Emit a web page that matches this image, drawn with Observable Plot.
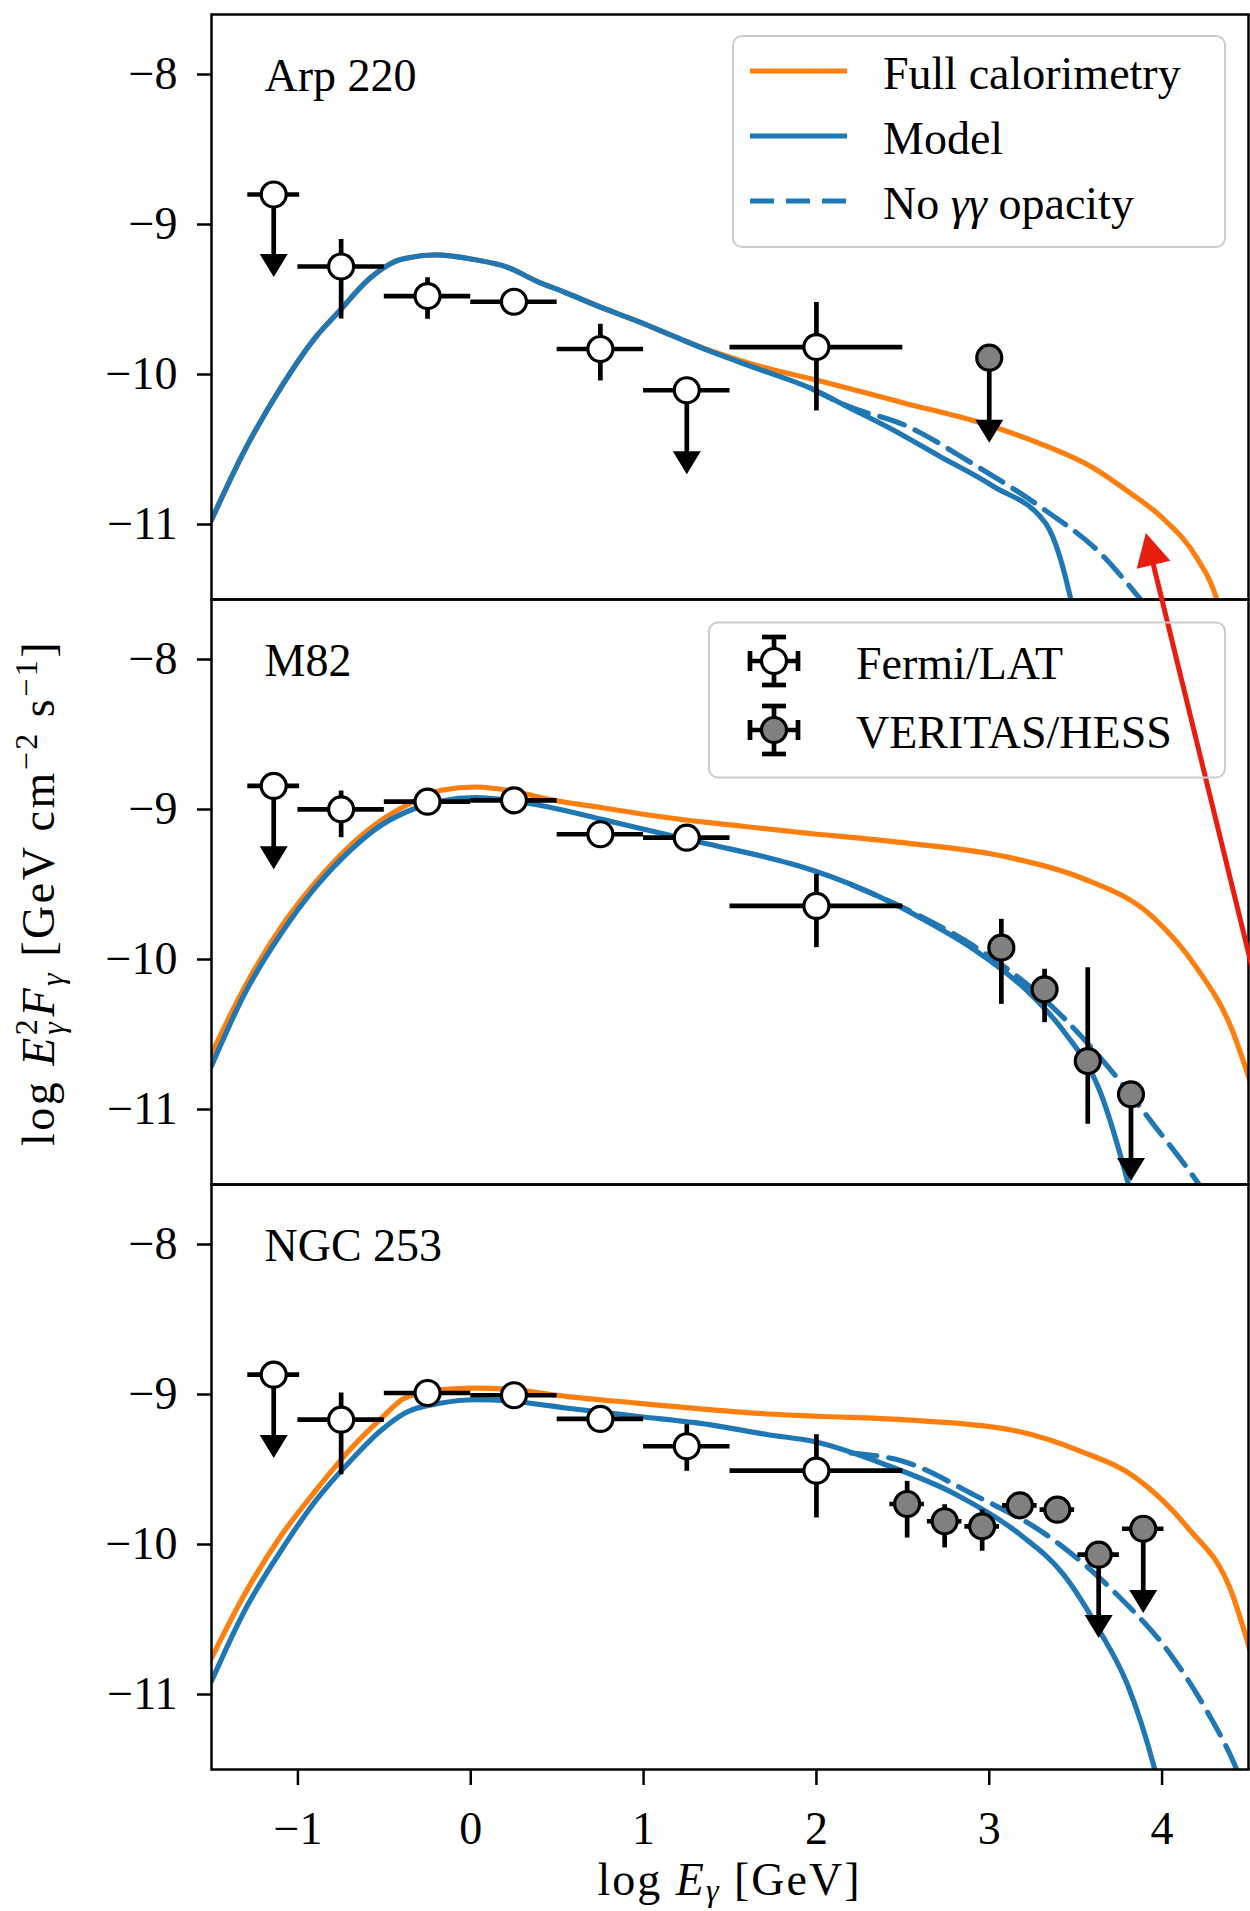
<!DOCTYPE html>
<html>
<head>
<meta charset="utf-8">
<script src="https://cdn.jsdelivr.net/npm/d3@7"></script>
<script src="https://cdn.jsdelivr.net/npm/@observablehq/plot@0.6"></script>
<style>
  html, body { margin: 0; padding: 0; background: #fff; overflow: hidden; }
  #chart { width: 1250px; height: 1911px; }
</style>
</head>
<body>
<div id="chart"></div>
<script>
// ---------- categories & ticks ----------
const galaxies = ["Arp 220", "M82", "NGC 253"];
const xTicks = [-1, 0, 1, 2, 3, 4];
const xTickLabels = ["−1", "0", "1", "2", "3", "4"];
const yTicks = [-8, -9, -10, -11];
const yTickLabels = ["−8", "−9", "−10", "−11"];
const legendLineLabels = ["Full calorimetry", "Model", "No γγ opacity"];
const legendPointLabels = ["Fermi/LAT", "VERITAS/HESS"];

// ---------- model curves [log E, log E^2 F] ----------
const arpFull = [[-1.5,-10.97],[-1.31,-10.51],[-1.10,-10.09],[-0.90,-9.755],[-0.76,-9.577],[-0.59,-9.365],[-0.40,-9.232],[-0.20,-9.203],[0.01,-9.232],[0.22,-9.288],[0.38,-9.377],[0.55,-9.455],[0.76,-9.555],[0.96,-9.643],[1.17,-9.743],[1.38,-9.838],[1.67,-9.945],[1.98,-10.032],[2.50,-10.188],[3.01,-10.343],[3.33,-10.477],[3.60,-10.621],[3.80,-10.777],[4.01,-10.965],[4.20,-11.221],[4.31,-11.477],[4.36,-11.70]];
const arpModel = [[-1.5,-10.97],[-1.31,-10.51],[-1.10,-10.09],[-0.90,-9.755],[-0.76,-9.577],[-0.59,-9.365],[-0.40,-9.232],[-0.20,-9.203],[0.01,-9.232],[0.22,-9.288],[0.38,-9.377],[0.55,-9.455],[0.76,-9.555],[0.96,-9.643],[1.17,-9.743],[1.38,-9.843],[1.67,-9.966],[1.96,-10.088],[2.19,-10.221],[2.42,-10.355],[2.71,-10.543],[3.02,-10.743],[3.33,-10.999],[3.41,-11.221],[3.47,-11.488],[3.52,-11.75]];
const arpNoOpacity = [[1.96,-10.088],[2.19,-10.215],[2.50,-10.332],[2.91,-10.599],[3.33,-10.91],[3.64,-11.188],[3.86,-11.477],[3.92,-11.56]];

const m82Full = [[-1.5,-10.63],[-1.31,-10.188],[-1.10,-9.788],[-0.90,-9.488],[-0.69,-9.232],[-0.525,-9.077],[-0.36,-8.965],[-0.17,-8.872],[0.03,-8.85],[0.24,-8.877],[0.45,-8.932],[0.76,-8.988],[1.07,-9.043],[1.38,-9.088],[1.72,-9.13],[1.88,-9.15],[2.50,-9.221],[3.12,-9.321],[3.53,-9.455],[3.95,-9.721],[4.20,-10.055],[4.40,-10.455],[4.52,-10.85]];
const m82Model = [[-1.5,-10.71],[-1.31,-10.232],[-1.10,-9.832],[-0.90,-9.521],[-0.69,-9.265],[-0.525,-9.11],[-0.36,-9.01],[-0.17,-8.943],[0.03,-8.921],[0.24,-8.943],[0.45,-8.983],[0.76,-9.066],[1.07,-9.15],[1.38,-9.232],[1.72,-9.321],[1.88,-9.37],[2.29,-9.543],[2.60,-9.721],[2.91,-9.932],[3.22,-10.21],[3.43,-10.477],[3.64,-10.877],[3.80,-11.477],[3.85,-11.70]];
const m82NoOpacity = [[2.20,-9.50],[2.60,-9.71],[2.91,-9.91],[3.33,-10.277],[3.74,-10.788],[3.95,-11.099],[4.20,-11.477],[4.25,-11.56]];

const ngcFull = [[-1.5,-10.757],[-1.31,-10.335],[-1.10,-9.945],[-0.90,-9.645],[-0.69,-9.357],[-0.525,-9.168],[-0.38,-9.023],[-0.17,-8.968],[0.03,-8.957],[0.24,-8.968],[0.55,-9.012],[0.96,-9.057],[1.38,-9.101],[1.72,-9.13],[2.0,-9.145],[2.50,-9.168],[3.12,-9.235],[3.53,-9.379],[3.85,-9.557],[4.15,-9.89],[4.40,-10.312],[4.52,-10.75]];
const ngcModel = [[-1.5,-10.912],[-1.31,-10.445],[-1.10,-10.045],[-0.90,-9.712],[-0.69,-9.435],[-0.525,-9.245],[-0.38,-9.123],[-0.17,-9.057],[0.03,-9.035],[0.24,-9.045],[0.55,-9.09],[0.96,-9.145],[1.38,-9.201],[1.72,-9.268],[1.98,-9.312],[2.40,-9.468],[2.81,-9.668],[3.18,-9.935],[3.43,-10.201],[3.64,-10.579],[3.80,-10.935],[3.95,-11.468],[3.99,-11.65]];
const ngcNoOpacity = [[2.20,-9.39],[2.50,-9.445],[2.91,-9.668],[3.33,-9.935],[3.74,-10.335],[4.05,-10.735],[4.26,-11.112],[4.42,-11.468],[4.46,-11.58]];

// ---------- data points: [x, xLow, xHigh, y, yLow (or limit arrow tip), yHigh, upperLimit] ----------
const fermiArp = [
  [-1.14,-1.29,-0.99,-8.80,-9.35,null,1],
  [-0.75,-1.0,-0.5,-9.28,-9.63,-9.10,0],
  [-0.25,-0.5,0.0,-9.477,-9.632,-9.355,0],
  [0.25,0.0,0.5,-9.515,-9.56,-9.47,0],
  [0.75,0.5,1.0,-9.83,-10.043,-9.665,0],
  [1.25,1.0,1.5,-10.105,-10.665,null,1],
  [2.0,1.5,2.5,-9.817,-10.243,-9.52,0]
];
const veritasArp = [
  [3.0,null,null,-9.888,-10.455,null,1]
];
const fermiM82 = [
  [-1.14,-1.29,-0.99,-8.843,-9.399,null,1],
  [-0.75,-1.0,-0.5,-8.999,-9.188,-8.877,0],
  [-0.25,-0.5,0.0,-8.948,-8.99,-8.905,0],
  [0.25,0.0,0.5,-8.939,-8.98,-8.90,0],
  [0.75,0.5,1.0,-9.165,-9.205,-9.125,0],
  [1.25,1.0,1.5,-9.188,-9.23,-9.145,0],
  [2.0,1.5,2.5,-9.643,-9.921,-9.432,0]
];
const veritasM82 = [
  [3.07,null,null,-9.921,-10.299,-9.732,0],
  [3.32,null,null,-10.199,-10.421,-10.065,0],
  [3.57,null,null,-10.677,-11.099,-10.055,0],
  [3.82,null,null,-10.899,-11.477,null,1]
];
const fermiNGC = [
  [-1.14,-1.29,-0.99,-8.868,-9.423,null,1],
  [-0.75,-1.0,-0.5,-9.168,-9.535,-8.99,0],
  [-0.25,-0.5,0.0,-8.99,-9.03,-8.95,0],
  [0.25,0.0,0.5,-9.005,-9.045,-8.965,0],
  [0.75,0.5,1.0,-9.163,-9.2,-9.125,0],
  [1.25,1.0,1.5,-9.345,-9.512,-9.201,0],
  [2.0,1.5,2.5,-9.508,-9.823,-9.268,0]
];
const veritasNGC = [
  [2.525,2.425,2.625,-9.73,-9.957,-9.579,0],
  [2.742,2.642,2.842,-9.845,-10.023,-9.735,0],
  [2.959,2.859,3.059,-9.879,-10.045,-9.77,0],
  [3.177,3.077,3.277,-9.739,-9.81,-9.67,0],
  [3.394,3.294,3.494,-9.768,-9.855,-9.69,0],
  [3.633,3.513,3.753,-10.068,-10.623,null,1],
  [3.891,3.771,4.011,-9.895,-10.457,null,1]
];

// red annotation arrow (drawn in the Arp 220 panel's data coordinates)
const redArrow = [{galaxy: "Arp 220", x1: 4.571, y1: -14.19, x2: 3.924, y2: -11.148, tipX: 3.906, tipY: -11.057}];

// ---------- styles ----------
const orange = "#ff7f0e", blue = "#1f77b4", red = "#e81d0e", grayFill = "#808080";
const serif = '"Liberation Serif", "Times New Roman", serif';
const curveWidth = 5.2;

// ---------- tables ----------
const curveSets = [
  ["Arp 220", arpFull, arpModel, arpNoOpacity],
  ["M82", m82Full, m82Model, m82NoOpacity],
  ["NGC 253", ngcFull, ngcModel, ngcNoOpacity]
];
const curves = curveSets.flatMap(([galaxy, full, model, noop]) => [
  ...full.map(([x, y]) => ({galaxy, series: "full", x, y})),
  ...model.map(([x, y]) => ({galaxy, series: "model", x, y})),
  ...noop.map(([x, y]) => ({galaxy, series: "noOpacity", x, y}))
]);
const toPts = (rows, galaxy, instrument) =>
  rows.map(([x, xlo, xhi, y, ylo, yhi, ul]) => ({galaxy, instrument, x, xlo, xhi, y, ylo, yhi, ul: !!ul}));
const points = [
  ...toPts(fermiArp, "Arp 220", "fermi"), ...toPts(veritasArp, "Arp 220", "veritas"),
  ...toPts(fermiM82, "M82", "fermi"), ...toPts(veritasM82, "M82", "veritas"),
  ...toPts(fermiNGC, "NGC 253", "fermi"), ...toPts(veritasNGC, "NGC 253", "veritas")
];
const withXErr = points.filter(d => d.xlo != null);
const withYErr = points.filter(d => !d.ul);
const upperLimits = points.filter(d => d.ul);

// custom symbols: arrowheads with the tip at the anchor point
const downHead = {draw(ctx) { ctx.moveTo(0, 0); ctx.lineTo(-14, -23); ctx.lineTo(14, -23); ctx.closePath(); }};
const redHead = {draw(ctx) { ctx.moveTo(0, 0); ctx.lineTo(24.5, 27.6); ctx.lineTo(-9.1, 35.8); ctx.closePath(); }};

const lineOpts = (series, stroke, extra = {}) =>
  Plot.line(curves.filter(d => d.series === series),
    {x: "x", y: "y", fy: "galaxy", z: "galaxy", stroke, strokeWidth: curveWidth, curve: "monotone-x", clip: true, ...extra});

const chart = Plot.plot({
  width: 1250,
  height: 1911,
  marginLeft: 211,
  marginRight: 2,
  marginTop: 13.5,
  marginBottom: 142.5,
  x: {domain: [-1.5, 4.5]},
  y: {domain: [-11.5, -7.6]},
  fy: {domain: galaxies, padding: 0, axis: null},
  style: {fontFamily: serif, fontSize: "46px", color: "black", background: "white", overflow: "hidden"},
  marks: [
    lineOpts("full", orange),
    lineOpts("model", blue),
    lineOpts("noOpacity", blue, {strokeDasharray: "26,12"}),
    Plot.frame({stroke: "black", strokeWidth: 2.5}),
    Plot.ruleY(withXErr, {y: "y", x1: "xlo", x2: "xhi", fy: "galaxy", stroke: "black", strokeWidth: 4.7}),
    Plot.ruleX(withYErr, {x: "x", y1: "ylo", y2: "yhi", fy: "galaxy", stroke: "black", strokeWidth: 4.7}),
    Plot.ruleX(upperLimits, {x: "x", y1: "y", y2: "ylo", fy: "galaxy", stroke: "black", strokeWidth: 4.7, insetBottom: 10}),
    Plot.dot(upperLimits, {x: "x", y: "ylo", fy: "galaxy", symbol: downHead, r: 10, fill: "black", stroke: "none"}),
    Plot.dot(points.filter(d => d.instrument === "fermi"), {x: "x", y: "y", fy: "galaxy", r: 12.5, fill: "white", stroke: "black", strokeWidth: 3.2}),
    Plot.dot(points.filter(d => d.instrument === "veritas"), {x: "x", y: "y", fy: "galaxy", r: 12.5, fill: grayFill, stroke: "black", strokeWidth: 3.2}),
    Plot.text(galaxies, {fy: d => d, text: d => d, frameAnchor: "top-left", dx: 53, dy: 62, textAnchor: "start", lineAnchor: "middle", fontSize: 46, fill: "black"}),
    Plot.axisY({ticks: yTicks, tickFormat: d => yTickLabels[yTicks.indexOf(d)], tickSize: 14, tickPadding: 20, strokeWidth: 2.5, fontSize: 46, label: null}),
    Plot.axisX({ticks: xTicks, tickFormat: d => xTickLabels[xTicks.indexOf(d)], tickSize: 16, tickPadding: 26, strokeWidth: 2.5, fontSize: 46, label: null}),
    Plot.link(redArrow, {x1: "x1", y1: "y1", x2: "x2", y2: "y2", fy: "galaxy", stroke: red, strokeWidth: 5, ariaLabel: "annotation-arrow"}),
    Plot.dot(redArrow, {x: "tipX", y: "tipY", fy: "galaxy", symbol: redHead, r: 10, fill: red, stroke: "none", ariaLabel: "annotation-arrow"})
  ]
});
document.getElementById("chart").appendChild(chart);

// ---------- in-panel legends and axis titles ----------
const svg = d3.select(chart);
function richText(sel, parts) {
  parts.forEach(p => {
    const t = sel.append("tspan").text(p.t);
    if (p.it) t.attr("font-style", "italic");
    if (p.size) t.attr("font-size", p.size);
    if (p.dx) t.attr("dx", p.dx);
    if (p.dy) t.attr("dy", p.dy);
  });
}
const lg = svg.append("g").attr("aria-label", "legend").attr("font-family", serif).attr("font-size", 46)
  .attr("fill", "black").attr("text-anchor", "start");

// legend 1 (lines)
lg.append("rect").attr("x", 733).attr("y", 36).attr("width", 492).attr("height", 211).attr("rx", 9)
  .attr("fill", "white").attr("fill-opacity", 0.8).attr("stroke", "#cccccc").attr("stroke-width", 2);
const lineStyles = [{c: orange, d: null}, {c: blue, d: null}, {c: blue, d: "24,12"}];
legendLineLabels.forEach((label, i) => {
  const y = 71 + i * 65;
  const ln = lg.append("line").attr("x1", 750).attr("x2", 847).attr("y1", y).attr("y2", y)
    .attr("stroke", lineStyles[i].c).attr("stroke-width", curveWidth);
  if (lineStyles[i].d) ln.attr("stroke-dasharray", lineStyles[i].d);
  const t = lg.append("text").attr("x", 883).attr("y", y + 17.5).attr("text-anchor", "start");
  richText(t, label.split(/(γ+)/).filter(s => s).map(s => ({t: s, it: /γ/.test(s)})));
});

// legend 2 (markers with error bars)
lg.append("rect").attr("x", 709).attr("y", 622.5).attr("width", 516).attr("height", 155).attr("rx", 9)
  .attr("fill", "none").attr("stroke", "#cccccc").attr("stroke-width", 2);
const pointFills = ["white", grayFill];
legendPointLabels.forEach((label, i) => {
  const cy = 661 + i * 69, cx = 774;
  const g = lg.append("g").attr("stroke", "black").attr("stroke-width", 4.7);
  g.append("line").attr("x1", cx).attr("x2", cx).attr("y1", cy - 24).attr("y2", cy + 24);
  g.append("line").attr("x1", cx - 24).attr("x2", cx + 24).attr("y1", cy).attr("y2", cy);
  g.append("line").attr("x1", cx - 12).attr("x2", cx + 12).attr("y1", cy - 24).attr("y2", cy - 24);
  g.append("line").attr("x1", cx - 12).attr("x2", cx + 12).attr("y1", cy + 24).attr("y2", cy + 24);
  g.append("line").attr("x1", cx - 24).attr("x2", cx - 24).attr("y1", cy - 10).attr("y2", cy + 10);
  g.append("line").attr("x1", cx + 24).attr("x2", cx + 24).attr("y1", cy - 10).attr("y2", cy + 10);
  g.append("circle").attr("cx", cx).attr("cy", cy).attr("r", 12.5).attr("fill", pointFills[i]).attr("stroke-width", 3.2);
  lg.append("text").attr("x", 856).attr("y", cy + 18).attr("text-anchor", "start").text(label);
});

// x-axis title
const xt = lg.append("text").attr("x", 729.5).attr("y", 1895).attr("text-anchor", "middle").attr("letter-spacing", 2);
richText(xt, [{t: "log "}, {t: "E", it: true}, {t: "γ", it: true, size: 32, dy: 6}, {t: " [GeV]", dy: -6}]);

// y-axis title
const yt = lg.append("text").attr("transform", "translate(54,893) rotate(-90)").attr("text-anchor", "middle").attr("letter-spacing", 2.5);
richText(yt, [
  {t: "log "}, {t: "E", it: true}, {t: "2", size: 32, dy: -17}, {t: "γ", it: true, size: 32, dx: -18, dy: 27},
  {t: "F", it: true, dx: 3, dy: -10}, {t: "γ", it: true, size: 32, dy: 9},
  {t: " [GeV cm", dy: -9}, {t: "−2", size: 32, dy: -17}, {t: " s", dy: 17}, {t: "−1", size: 32, dy: -17}, {t: "]", dy: 17}
]);

// keep the annotation arrow on top of the legends
chart.querySelectorAll('g[aria-label="annotation-arrow"]').forEach(g => chart.appendChild(g));
</script>
</body>
</html>
